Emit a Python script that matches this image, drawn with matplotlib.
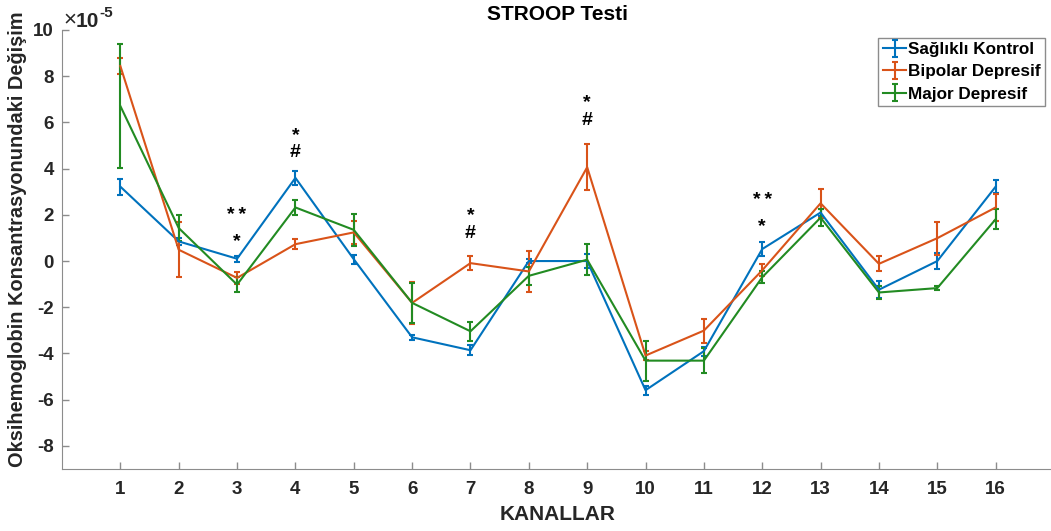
import matplotlib.pyplot as plt

plt.rcParams['font.family'] = ['Liberation Sans', 'DejaVu Sans']
plt.rcParams['font.weight'] = 'bold'
plt.rcParams['axes.unicode_minus'] = False

# channel means and standard errors, in units of 1e-5
kanallar = list(range(1, 17))

saglikli = [3.22, 0.85, 0.10, 3.60, 0.08, -3.30, -3.86, 0.00, 0.00, -5.59, -3.90, 0.52, 2.10, -1.24, 0.00, 3.22]
saglikli_err = [0.35, 0.15, 0.12, 0.30, 0.20, 0.12, 0.22, 0.10, 0.30, 0.20, 0.20, 0.30, 0.15, 0.36, 0.33, 0.29]

bipolar = [8.44, 0.49, -0.73, 0.73, 1.24, -1.81, -0.09, -0.45, 4.06, -4.09, -3.01, -0.40, 2.50, -0.12, 0.99, 2.32]
bipolar_err = [0.35, 1.20, 0.25, 0.22, 0.50, 0.90, 0.30, 0.88, 1.00, 0.20, 0.52, 0.26, 0.62, 0.32, 0.72, 0.57]

major = [6.71, 1.43, -1.02, 2.32, 1.35, -1.81, -3.04, -0.64, 0.06, -4.31, -4.31, -0.70, 1.88, -1.36, -1.17, 1.81]
major_err = [2.70, 0.57, 0.33, 0.32, 0.70, 0.85, 0.40, 0.40, 0.68, 0.86, 0.54, 0.26, 0.38, 0.28, 0.10, 0.43]

# significance marks: (channel, y, label)
isaretler = [
    (3, 1.95, '*\u2009*'), (3, 0.85, '*'),
    (4, 5.45, '*'), (4, 4.7, '#'),
    (7, 1.95, '*'), (7, 1.2, '#'),
    (9, 6.85, '*'), (9, 6.1, '#'),
    (12, 2.6, '*\u2009*'), (12, 1.5, '*'),
]

fig = plt.figure(figsize=(10.51, 5.31), dpi=100)
ax = fig.add_axes([62 / 1051, 62 / 531, 992 / 1051, 439 / 531])

series = [
    (saglikli, saglikli_err, '#0072BD', 'Sağlıklı Kontrol'),
    (bipolar, bipolar_err, '#D95319', 'Bipolar Depresif'),
    (major, major_err, '#228B22', 'Major Depresif'),
]
for vals, errs, col, name in series:
    ax.errorbar(kanallar, vals, yerr=errs, color=col, lw=1.5, elinewidth=1.5,
                capsize=2.5, capthick=1.5, label=name)

for k, y, s in isaretler:
    ax.text(k, y, s, ha='center', va='center', fontsize=14, fontweight='bold')

ax.set_xlim(0, 17)
ax.set_ylim(-9, 10)
ax.set_xticks(kanallar)
ax.set_yticks(range(-8, 11, 2))
ax.tick_params(direction='in', length=5, width=1, colors='#8c8c8c',
               labelcolor='#262626', labelsize=13.5)
ax.tick_params(axis='y', pad=6)
ax.tick_params(axis='x', pad=9)
for lab in ax.get_xticklabels() + ax.get_yticklabels():
    lab.set_fontweight('bold')
for side in ['top', 'right']:
    ax.spines[side].set_visible(False)
for side in ['left', 'bottom']:
    ax.spines[side].set_color('#8c8c8c')

ax.set_title('STROOP Testi', fontsize=15, fontweight='bold', pad=7)
ax.set_xlabel('KANALLAR', fontsize=15, fontweight='bold', color='#262626')
ax.set_ylabel('Oksihemoglobin Konsantrasyonundaki Değişim', fontsize=14.4,
              fontweight='bold', color='#262626')
ax.xaxis.set_label_coords(0.5, -0.082)
ax.yaxis.set_label_coords(-0.035, 0.524)

# exponent label above the y axis
carpan = ax.text(0.001, 0.998, '\u00d7', transform=ax.transAxes, fontsize=16,
                 fontweight='normal', color='#262626', va='bottom', ha='left')
on = ax.annotate('10', xy=(1, 0), xycoords=carpan, fontsize=15, fontweight='bold',
                 color='#262626', va='bottom', ha='left')
ax.annotate('-5', xy=(1, 0.55), xycoords=on, fontsize=11, fontweight='bold',
            color='#262626', va='bottom', ha='left')

leg = ax.legend(loc='upper right', bbox_to_anchor=(0.991, 0.982),
                prop={'weight': 'bold', 'size': 12.3}, fancybox=False, framealpha=1,
                edgecolor='#8c8c8c', handlelength=1.4, handletextpad=0.1,
                borderpad=0.25, labelspacing=0.42, borderaxespad=0)
leg.get_frame().set_linewidth(1)

fig.savefig('out.png', dpi=100)
